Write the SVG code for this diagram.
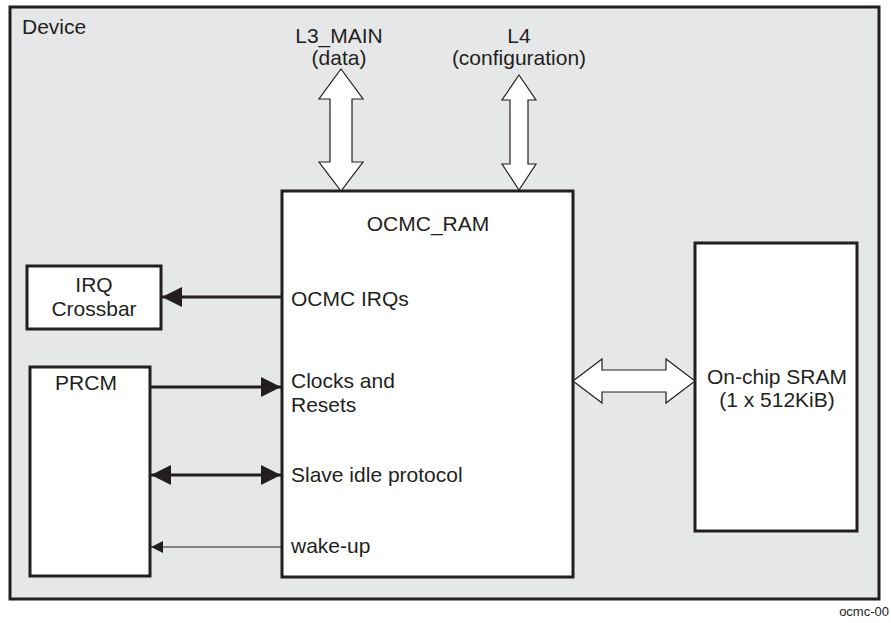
<svg xmlns="http://www.w3.org/2000/svg" width="891" height="623" viewBox="0 0 891 623">
<defs>
<style>
text{font-family:"Liberation Sans",Arial,sans-serif;font-size:21px;fill:#231f20}
.box{fill:#fff;stroke:#231f20;stroke-width:3}
.hollow{fill:#fff;stroke:#231f20;stroke-width:1.2;stroke-linejoin:miter}
.thick{stroke:#231f20;stroke-width:3;fill:none}
.thin{stroke:#231f20;stroke-width:1.2;fill:none}
.c{text-anchor:middle}
</style>
<marker id="ah" viewBox="0 0 20 20" refX="20" refY="10" markerWidth="20" markerHeight="20" markerUnits="userSpaceOnUse" orient="auto-start-reverse"><path d="M0,0 L20,10 L0,20 Z" fill="#231f20"/></marker>
<marker id="ahs" viewBox="0 0 12 12" refX="12" refY="6" markerWidth="12" markerHeight="12" markerUnits="userSpaceOnUse" orient="auto"><path d="M0,0 L12,6 L0,12 Z" fill="#231f20"/></marker>
</defs>
<rect width="891" height="623" fill="#fff"/>
<g id="device">
<rect x="10" y="7" width="869" height="592" fill="#e6e7e8" stroke="#231f20" stroke-width="3"/>
<text x="22" y="34">Device</text>
</g>
<g id="ocmc_ram">
<rect class="box" x="282" y="191" width="291" height="386"/>
<text class="c" x="428" y="231">OCMC_RAM</text>
<text x="291" y="306">OCMC IRQs</text>
<text x="291" y="388">Clocks and</text>
<text x="291" y="412">Resets</text>
<text x="291" y="482">Slave idle protocol</text>
<text x="291" y="553">wake-up</text>
</g>
<g id="irq_crossbar">
<rect class="box" x="27" y="266" width="134" height="63"/>
<text class="c" x="94" y="292">IRQ</text>
<text class="c" x="94" y="316">Crossbar</text>
</g>
<g id="prcm">
<rect class="box" x="30" y="367" width="120" height="209"/>
<text class="c" x="86" y="390">PRCM</text>
</g>
<g id="sram">
<rect class="box" x="695" y="243" width="162" height="288"/>
<text class="c" x="777" y="384">On-chip SRAM</text>
<text class="c" x="777" y="407">(1 x 512KiB)</text>
</g>
<g id="l3_main">
<text class="c" x="339" y="43">L3_MAIN</text>
<text class="c" x="339" y="65">(data)</text>
</g>
<g id="l4">
<text class="c" x="519" y="43">L4</text>
<text class="c" x="519" y="65">(configuration)</text>
</g>
<g id="connectors">
<path class="hollow" d="M341,69 L363,99 L352,99 L352,162 L363,162 L341,191 L319,162 L330,162 L330,99 L319,99 Z"/>
<path class="hollow" d="M519,75 L536,100 L528,100 L528,164 L536,164 L519,190 L502,164 L510,164 L510,100 L502,100 Z"/>
<path class="hollow" d="M573,381 L602,359 L602,370 L666,370 L666,359 L695,381 L666,403 L666,392 L602,392 L602,403 Z"/>
<line class="thick" x1="282" y1="297" x2="162" y2="297" marker-end="url(#ah)"/>
<line class="thick" x1="150" y1="387" x2="281" y2="387" marker-end="url(#ah)"/>
<line class="thick" x1="151" y1="475" x2="281" y2="475" marker-start="url(#ah)" marker-end="url(#ah)"/>
<line class="thin" x1="282" y1="547" x2="151" y2="547" marker-end="url(#ahs)"/>
</g>
<text x="889" y="616" style="font-size:13px;text-anchor:end">ocmc-00</text>
</svg>
